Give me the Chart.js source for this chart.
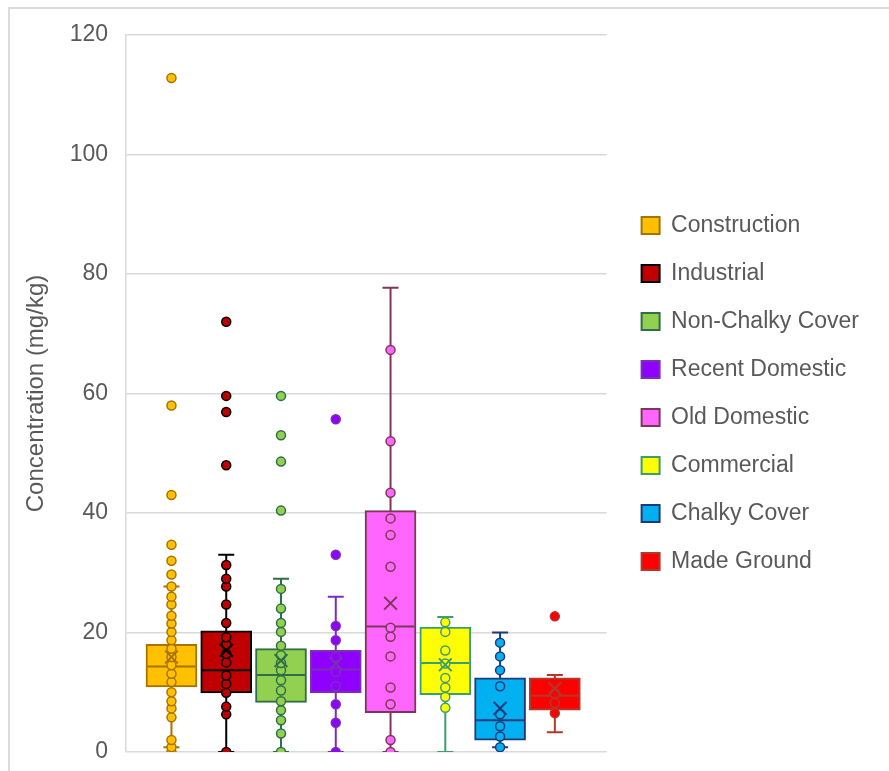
<!DOCTYPE html>
<html>
<head>
<meta charset="utf-8">
<script src="https://cdn.jsdelivr.net/npm/chart.js@4.4.1/dist/chart.umd.min.js"></script>
<style>
  html, body { margin: 0; padding: 0; background: #fff; overflow: hidden; }
  #frame {
    position: absolute; left: 8px; top: 7px; width: 1000px; height: 1000px;
    border-left: 2px solid #dcdcdc; border-top: 2px solid #dcdcdc;
  }
  #boxChart { position: absolute; left: 0; top: 0; }
</style>
</head>
<body>
<div id="frame"></div>
<canvas id="boxChart" width="889" height="771"></canvas>
<script>
// ===== 토지이용별 농도 박스플롯 (Chart.js) =====

// 카테고리
const categories = [
  "Construction", "Industrial", "Non-Chalky Cover", "Recent Domestic",
  "Old Domestic", "Commercial", "Chalky Cover", "Made Ground",
];

// 박스 통계값 (mg/kg)
const q1Values     = [10.9,  9.9,  8.3,  9.9,  6.6,  9.6,  2.0,  7.0];
const q3Values     = [18.0, 20.3, 17.3, 17.0, 40.4, 20.9, 12.4, 12.4];
const medianValues = [14.3, 13.7, 12.9, 13.8, 21.0, 14.9,  5.3,  9.4];
const meanValues   = [15.9, 17.0, 15.3, 14.8, 24.9, 14.6,  7.3, 10.6];
const whiskerLow   = [ 0.8,  0.0,  0.0,  0.0,  0.0,  0.0,  0.8,  3.3];
const whiskerHigh  = [27.7, 33.0, 29.0, 26.0, 77.7, 22.6, 20.0, 12.9];

// 개별 측정값 (내부 점 + 이상치)
const constructionPts = [0, 0.8, 2.0, 5.8, 7.3, 8.5, 10.0, 11.7, 13.1, 14.5, 15.9, 17.3, 18.7, 20.1, 21.5, 22.8, 24.7, 26.0, 27.7, 29.7, 32.0, 34.7, 43.0, 58.0, 112.8];
const industrialPts   = [0, 6.3, 7.6, 9.9, 11.4, 12.8, 15.0, 16.4, 18.0, 19.2, 21.6, 24.7, 27.7, 29.0, 31.3, 48.0, 56.9, 59.6, 72.0];
const nonChalkyPts    = [0, 3.1, 5.3, 7.0, 8.5, 10.3, 12.0, 13.7, 14.9, 16.2, 17.8, 20.1, 21.6, 24.0, 27.3, 40.4, 48.6, 53.0, 59.6];
const recentDomPts    = [0, 4.9, 8.0, 11.0, 13.4, 15.9, 18.7, 21.1, 33.0, 55.7];
const oldDomPts       = [0, 2.0, 8.0, 10.8, 16.0, 19.3, 20.8, 31.0, 36.3, 39.1, 43.4, 52.0, 67.3];
const commercialPts   = [7.4, 9.2, 10.8, 12.4, 14.8, 17.0, 20.1, 21.7];
const chalkyPts       = [0.8, 2.6, 4.3, 6.3, 11.0, 13.7, 16.0, 18.3];
const madeGroundPts   = [6.5, 8.2, 9.8, 22.7];
const pointValues = [constructionPts, industrialPts, nonChalkyPts, recentDomPts, oldDomPts, commercialPts, chalkyPts, madeGroundPts];

// 눈금
const yTicks = [0, 20, 40, 60, 80, 100, 120];

// 색상
const fillColors   = ["#FFC000", "#C00000", "#92D050", "#9000FF", "#FF66FF", "#FFFF00", "#00B0F0", "#FF0000"];
const borderColors = ["#A87200", "#000000", "#2E6E48", "#7A2FB5", "#7E3658", "#3C9E6E", "#1F3A7A", "#B0382C"];

const FONT = "'Liberation Sans', Arial, sans-serif";
const TEXT = "#595959";

const boxSets = categories.map((name, i) => ({
  type: "bar",
  label: name,
  data: [{ x: i + 1, y: [q1Values[i], q3Values[i]] }],
  backgroundColor: fillColors[i],
  borderColor: borderColors[i],
  borderWidth: 2,
  borderSkipped: false,
  barThickness: 51,
  grouped: false,
  order: 4,
}));

const whiskerSets = categories.map((name, i) => ({
  type: "line",
  label: name + " whisker",
  data: [{ x: i + 1, y: whiskerLow[i] }, { x: i + 1, y: whiskerHigh[i] }],
  borderColor: borderColors[i],
  borderWidth: 2,
  pointRadius: 0,
  order: 5,
}));

const capSets = categories.map((name, i) => ({
  type: "scatter",
  label: name + " cap",
  data: [{ x: i + 1, y: whiskerLow[i] }, { x: i + 1, y: whiskerHigh[i] }],
  pointStyle: "line",
  pointRadius: 8,
  borderColor: borderColors[i],
  pointBorderWidth: 2,
  order: 3,
}));

const medianSets = categories.map((name, i) => ({
  type: "scatter",
  label: name + " median",
  data: [{ x: i + 1, y: medianValues[i] }],
  pointStyle: "line",
  pointRadius: 24,
  borderColor: borderColors[i],
  pointBorderWidth: 2,
  order: 3,
}));

const pointSets = categories.map((name, i) => ({
  type: "scatter",
  label: name + " points",
  data: pointValues[i].map((v) => ({ x: i + 1, y: v })),
  pointRadius: 4.5,
  backgroundColor: fillColors[i],
  borderColor: borderColors[i],
  pointBorderWidth: 1.5,
  order: 2,
}));

const meanSets = categories.map((name, i) => ({
  type: "scatter",
  label: name + " mean",
  data: [{ x: i + 1, y: meanValues[i] }],
  pointStyle: "crossRot",
  pointRadius: 9,
  borderColor: borderColors[i],
  pointBorderWidth: 2,
  order: 1,
}));

new Chart(document.getElementById("boxChart"), {
  type: "bar",
  data: {
    datasets: [...boxSets, ...whiskerSets, ...capSets, ...medianSets, ...pointSets, ...meanSets],
  },
  options: {
    responsive: false,
    animation: false,
    layout: { autoPadding: false, padding: { top: 35, bottom: 19, left: 0, right: 20 } },
    scales: {
      x: {
        type: "linear",
        min: 0.17,
        max: 8.945,
        offset: false,
        display: false,
      },
      y: {
        type: "linear",
        min: 0,
        max: 120,
        afterBuildTicks: (s) => { s.ticks = yTicks.map((v) => ({ value: v })); },
        afterFit: (s) => { s.width = 126; s.paddingTop = 0; s.paddingBottom = 0; },
        grid: { color: "#d9d9d9", lineWidth: 1.5, drawTicks: false },
        border: { display: true, color: "#d9d9d9", width: 1.5 },
        ticks: { padding: 18, color: TEXT, font: { family: FONT, size: 23 } },
        title: {
          display: true,
          text: "Concentration (mg/kg)",
          color: TEXT,
          font: { family: FONT, size: 24 },
          padding: { top: 22, bottom: 0 },
        },
      },
      y2: {
        type: "linear",
        position: "right",
        display: true,
        grid: { display: false },
        border: { display: false },
        ticks: { display: false },
        afterFit: (s) => { s.width = 10; s.paddingTop = 0; s.paddingBottom = 0; },
      },
    },
    plugins: {
      tooltip: { enabled: false },
      legend: {
        position: "right",
        align: "center",
        maxWidth: 300,
        labels: {
          filter: (item) => item.datasetIndex < categories.length,
          boxWidth: 18,
          boxHeight: 17,
          padding: 25,
          color: TEXT,
          font: { family: FONT, size: 23 },
        },
      },
    },
  },
});
</script>
</body>
</html>
